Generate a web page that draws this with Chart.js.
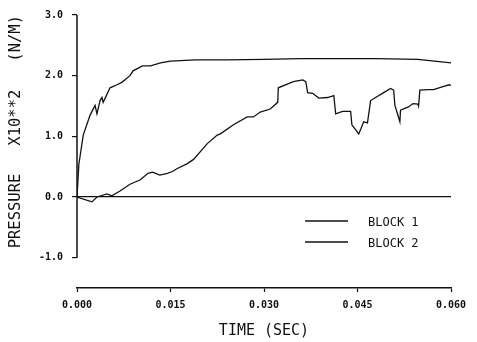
<!DOCTYPE html>
<html lang="en">
<head>
  <meta charset="UTF-8" />
  <title>Pressure vs time</title>
  <script src="https://cdn.jsdelivr.net/npm/chart.js"></script>
  <style>
    html, body { margin: 0; padding: 0; background: #fff; }
    #wrap { width: 477px; height: 342px; }
  </style>
</head>
<body>
  <div id="wrap"><canvas id="chart" width="477" height="342"></canvas></div>

  <script>
    // values (time in sec, pressure x10**2 N/M)
    const time1 = [0, 0.0003, 0.001, 0.0021, 0.0029, 0.0032, 0.0037, 0.0040, 0.0042, 0.0053,
                   0.0064, 0.0072, 0.0085, 0.0090, 0.0105, 0.0118, 0.0134, 0.015, 0.019,
                   0.024, 0.030, 0.036, 0.042, 0.048, 0.0547, 0.060];
    const block1 = [0, 0.54, 1.02, 1.35, 1.51, 1.37, 1.59, 1.64, 1.56, 1.80,
                    1.85, 1.89, 2.00, 2.08, 2.16, 2.16, 2.21, 2.24, 2.26,
                    2.26, 2.27, 2.28, 2.28, 2.28, 2.27, 2.21];

    const time2 = [0, 0.0024, 0.0032, 0.0048, 0.0056, 0.0069, 0.0085, 0.0101, 0.0114, 0.0121,
                   0.0133, 0.0145, 0.0153, 0.0161, 0.0177, 0.0187, 0.0209, 0.0225, 0.0230,
                   0.0251, 0.0273, 0.0283, 0.0294, 0.0310, 0.0322, 0.0323, 0.0347, 0.0362,
                   0.0367, 0.0370, 0.0378, 0.0388, 0.0402, 0.0412, 0.0415, 0.0426, 0.0439,
                   0.0441, 0.0452, 0.0460, 0.0466, 0.0471, 0.0479, 0.0492, 0.0503, 0.0508,
                   0.0510, 0.0518, 0.0519, 0.0531, 0.0539, 0.0547, 0.0548, 0.0550, 0.0563,
                   0.0572, 0.0587, 0.0597, 0.060];
    const block2 = [0, -0.08, 0.0, 0.05, 0.02, 0.10, 0.21, 0.28, 0.39, 0.41,
                    0.36, 0.39, 0.42, 0.47, 0.55, 0.62, 0.88, 1.02, 1.04,
                    1.19, 1.32, 1.32, 1.40, 1.45, 1.56, 1.80, 1.90, 1.93,
                    1.90, 1.72, 1.71, 1.63, 1.64, 1.67, 1.37, 1.41, 1.41,
                    1.19, 1.04, 1.24, 1.22, 1.59, 1.64, 1.72, 1.79, 1.76,
                    1.51, 1.24, 1.43, 1.48, 1.54, 1.53, 1.50, 1.76, 1.77,
                    1.77, 1.82, 1.85, 1.84];

    const seriesNames = ['BLOCK 1', 'BLOCK 2'];
    const xTicks = [0, 0.015, 0.030, 0.045, 0.060];
    const yTicks = [-1, 0, 1, 2, 3];

    const mono = "'DejaVu Sans Mono', 'Liberation Mono', monospace";
    const ink = '#111';

    function toPoints(xs, ys) {
      return xs.map((x, i) => ({ x: x, y: ys[i] }));
    }

    // y axis line only spans the labelled range, legend sits inside the plot
    const extras = {
      id: 'extras',
      afterDraw(chart) {
        const ctx = chart.ctx;
        const y = chart.scales.y;
        const area = chart.chartArea;
        ctx.save();
        ctx.strokeStyle = ink;
        ctx.lineWidth = 1.5;
        ctx.beginPath();
        ctx.moveTo(area.left, y.getPixelForValue(yTicks[yTicks.length - 1]));
        ctx.lineTo(area.left, y.getPixelForValue(yTicks[0]));
        ctx.stroke();

        ctx.font = '12px ' + mono;
        ctx.fillStyle = ink;
        ctx.textBaseline = 'middle';
        chart.data.datasets.forEach((ds, i) => {
          const ly = area.top + 206 + i * 21;
          ctx.lineWidth = 1.3;
          ctx.beginPath();
          ctx.moveTo(area.left + 228, ly);
          ctx.lineTo(area.left + 271, ly);
          ctx.stroke();
          ctx.fillText(ds.label, area.left + 291, ly + 2);
        });
        ctx.restore();
      }
    };

    new Chart(document.getElementById('chart'), {
      type: 'line',
      data: {
        datasets: [
          { label: seriesNames[0], data: toPoints(time1, block1) },
          { label: seriesNames[1], data: toPoints(time2, block2) }
        ]
      },
      options: {
        responsive: false,
        animation: false,
        layout: { padding: { left: 0, right: 26, top: 4, bottom: 0 } },
        elements: {
          line: { borderColor: ink, borderWidth: 1.3, tension: 0 },
          point: { radius: 0 }
        },
        plugins: {
          legend: { display: false },
          tooltip: { enabled: false }
        },
        scales: {
          x: {
            type: 'linear',
            min: 0,
            max: 0.06,
            afterBuildTicks: s => { s.ticks = xTicks.map(v => ({ value: v })); },
            afterFit: s => { s.height = 54; },
            border: { display: true, color: ink, width: 1.5 },
            grid: { color: 'transparent', tickColor: ink, tickLength: 4, tickWidth: 1.2 },
            ticks: {
              padding: 7,
              color: ink,
              maxRotation: 0,
              font: { family: mono, size: 10, weight: 'bold' },
              callback: v => v.toFixed(3)
            },
            title: {
              display: true,
              text: 'TIME (SEC)',
              color: ink,
              padding: { top: 0, bottom: 2 },
              font: { family: mono, size: 15 }
            }
          },
          y: {
            min: -1.5,
            max: 3,
            afterBuildTicks: s => { s.ticks = yTicks.map(v => ({ value: v })); },
            afterFit: s => { s.width = 77; },
            border: { display: false },
            grid: {
              color: c => (c.tick && c.tick.value === 0 ? ink : 'transparent'),
              lineWidth: 1.2,
              tickColor: ink,
              tickLength: 5,
              tickWidth: 1.2
            },
            ticks: {
              padding: 9,
              color: ink,
              font: { family: mono, size: 10, weight: 'bold' },
              callback: v => v.toFixed(1)
            },
            title: {
              display: true,
              align: 'end',
              text: 'PRESSURE   X10**2   (N/M)',
              color: ink,
              padding: { top: 7, bottom: 0 },
              font: { family: mono, size: 15.5 }
            }
          }
        }
      },
      plugins: [extras]
    });
  </script>
</body>
</html>
